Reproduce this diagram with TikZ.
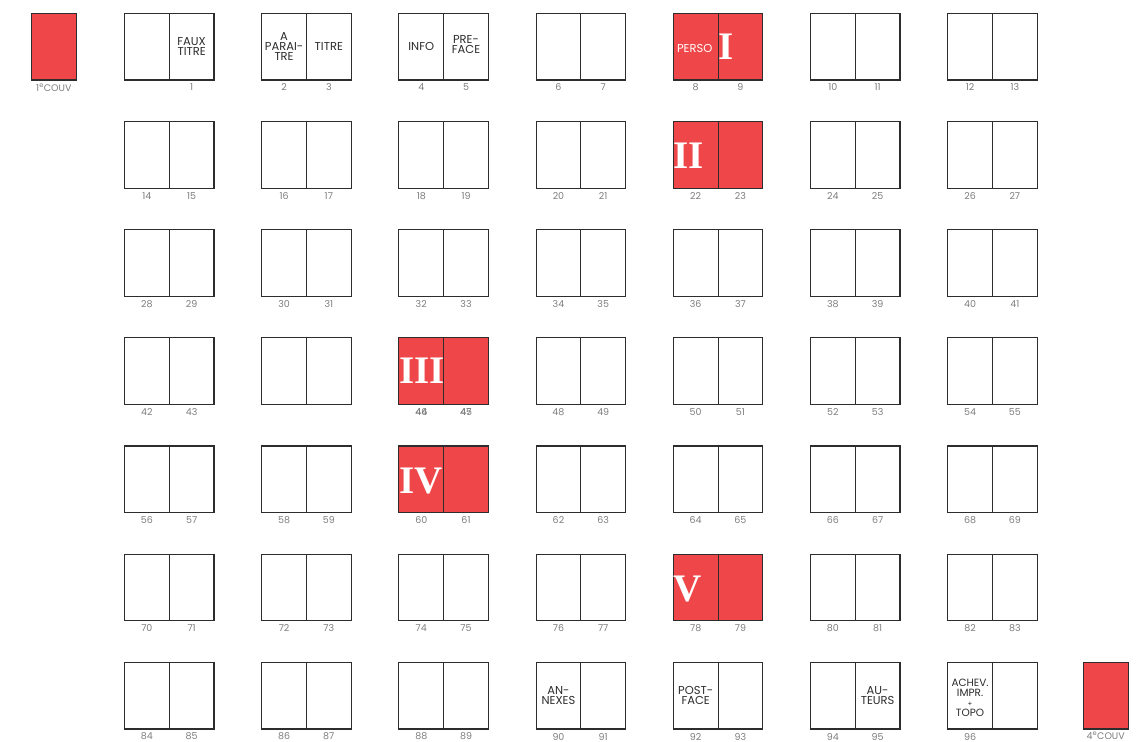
\documentclass[tikz,border=0pt]{standalone}
\usepackage{fontspec}
\setmainfont{Poppins}
\newfontfamily\romanfont{Liberation Serif}
\definecolor{pagered}{RGB}{239,71,73}
\definecolor{numgray}{RGB}{125,125,125}
\definecolor{edgec}{RGB}{45,45,45}
\definecolor{labc}{RGB}{45,45,45}
\begin{document}
\begin{tikzpicture}[x=1pt,y=-1pt,
  pg/.style={draw=edgec, line width=1.1pt, minimum width=44.75pt, minimum height=66.7pt, inner sep=0pt, outer sep=0pt, anchor=north west},
  num/.style={text=numgray, font=\fontsize{9.5}{9.5}\selectfont, inner sep=0pt},
  lab/.style={text=labc, font=\fontsize{11.5}{9.8}\selectfont, align=center, inner sep=0pt},
  numeral/.style={text=white, font=\romanfont\bfseries\fontsize{39}{39}\selectfont, inner sep=0pt, anchor=west}]
\useasboundingbox (0,0) rectangle (1144,742);
\foreach \r in {0,...,6} {
  \foreach \c in {0,...,6} {
    \pgfmathsetmacro\xx{124.5+137.2*\c}
    \pgfmathsetmacro\yy{13.3+108.17*\r}
    \pgfmathtruncatemacro\k{7*\r+\c}
    \pgfmathtruncatemacro\nl{2*\k}
    \pgfmathtruncatemacro\nr{2*\k+1}
    \pgfmathtruncatemacro\isred{(\k==4)||(\k==11)||(\k==23)||(\k==30)||(\k==39)}
    \ifnum\isred=1 \def\fillc{pagered}\else\def\fillc{white}\fi
    \node[pg, fill=\fillc] (L-\r-\c) at (\xx,\yy) {};
    \node[pg, fill=\fillc] (R-\r-\c) at (L-\r-\c.north east) {};
    \ifnum\k=0 \else\ifnum\k=22 \else
      \node[num] at ([yshift=-7.5pt]L-\r-\c.south) {\nl};
    \fi\fi
    \ifnum\k=48 \else\ifnum\k=22 \else
      \node[num] at ([yshift=-7.5pt]R-\r-\c.south) {\nr};
    \fi\fi
    \ifnum\k=23
      \node[num] at ([yshift=-7.5pt]L-\r-\c.south) {44};
      \node[num] at ([yshift=-7.5pt]R-\r-\c.south) {45};
    \fi
  }
}
% covers
\node[pg, fill=pagered] (C1) at (31.5,13.3) {};
\node[num] at ([yshift=-7.5pt]C1.south) {1\textsuperscript{e}COUV};
\node[pg, fill=pagered] (C4) at (1083.3,662.3) {};
\node[num] at ([yshift=-6.5pt]C4.south) {4\textsuperscript{e}COUV};
% labels
\node[lab] at (R-0-0) {FAUX\\TITRE};
\node[lab] at (L-0-1) {A\\PARAI-\\TRE};
\node[lab] at (R-0-1) {TITRE};
\node[lab] at (L-0-2) {INFO};
\node[lab] at ([yshift=2pt]R-0-2) {PRE-\\FACE};
\node[lab, text=white] at ([yshift=-2pt,xshift=-1pt]L-0-4) {PERSO};
\node[lab] at (L-6-3) {AN-\\NEXES};
\node[lab] at (L-6-4) {POST-\\FACE};
\node[lab] at (R-6-5) {AU-\\TEURS};
\node[lab, font=\fontsize{10.5}{10}\selectfont] at ([yshift=-2pt]L-6-6) {ACHEV.\\IMPR.\\{\fontsize{7}{7}\selectfont +}\\TOPO};
% roman numerals
\node[numeral] at ([xshift=0.5pt]R-0-4.west) {I};
\node[numeral] at ([yshift=-1pt]L-1-4.west) {II};
\node[numeral] at (L-3-2.west) {III};
\node[numeral] at ([yshift=-2pt]L-4-2.west) {IV};
\node[numeral] at ([yshift=-2pt]L-5-4.west) {V};
\end{tikzpicture}
\end{document}
